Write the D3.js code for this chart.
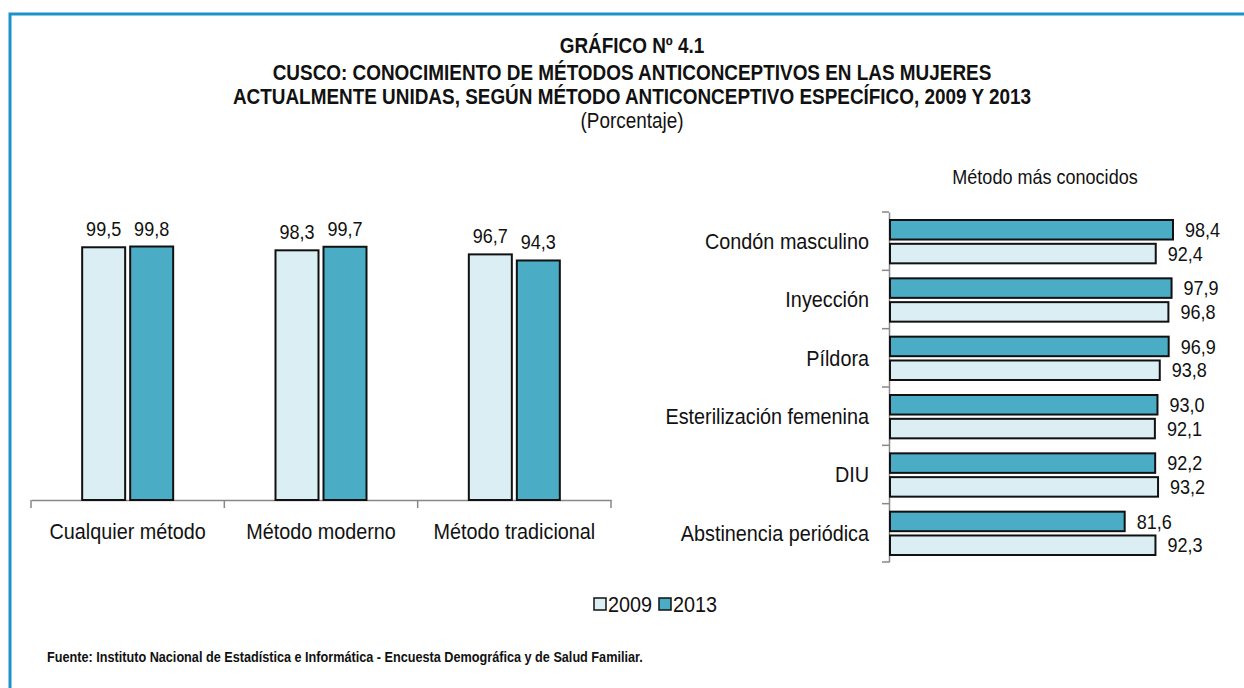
<!DOCTYPE html>
<html>
<head>
<meta charset="utf-8">
<script src="https://cdn.jsdelivr.net/npm/d3@7"></script>
<style>
  body { margin: 0; background: #fff; }
  svg text { font-family: "Liberation Sans Narrow", "Arial Narrow", "Liberation Sans", sans-serif; fill: #111; }
</style>
</head>
<body>
<svg id="chart" width="1244" height="688"></svg>
<script>
// --- Données ---
const years = ["2009", "2013"];
const colors = ["#dbeef4", "#4bacc6"];

const generalCats = ["Cualquier método", "Método moderno", "Método tradicional"];
const general2009 = [99.5, 98.3, 96.7];
const general2013 = [99.8, 99.7, 94.3];

const methodCats = ["Condón masculino", "Inyección", "Píldora", "Esterilización femenina", "DIU", "Abstinencia periódica"];
const method2009 = [92.4, 96.8, 93.8, 92.1, 93.2, 92.3];
const method2013 = [98.4, 97.9, 96.9, 93.0, 92.2, 81.6];

const fmt = v => v.toFixed(1).replace(".", ",");

// police étroite simulée (Arial Narrow absente)
const SX = 0.88;
const narrow = (fx, fy) => (d, i) => `translate(${fx(d, i)},${fy(d, i)}) scale(${SX},1)`;

const svg = d3.select("#chart");

// Cadre bleu
svg.append("path")
    .attr("d", "M10,688 V14 H1244")
    .attr("fill", "none")
    .attr("stroke", "#1b93c9")
    .attr("stroke-width", 3);

// Titres
const titles = [
    {t: "GRÁFICO Nº 4.1", y: 53, bold: true},
    {t: "CUSCO: CONOCIMIENTO DE MÉTODOS ANTICONCEPTIVOS EN LAS MUJERES", y: 80, bold: true},
    {t: "ACTUALMENTE UNIDAS, SEGÚN MÉTODO ANTICONCEPTIVO ESPECÍFICO, 2009 Y 2013", y: 104, bold: true},
    {t: "(Porcentaje)", y: 128, bold: false}
];
svg.selectAll(".title")
    .data(titles)
    .enter()
    .append("text")
    .attr("class", "title")
    .attr("transform", narrow(() => 632, d => d.y))
    .attr("text-anchor", "middle")
    .style("font-size", "21.5px")
    .style("font-weight", d => d.bold ? "bold" : "normal")
    .text(d => d.t);

// --- Graphique de gauche (barres verticales) ---
const left = {x0: 31, x1: 611, y0: 500};
const xBand = d3.scaleBand().domain(generalCats).range([left.x0, left.x1]);
const xSub = d3.scaleBand().domain(years).range([-48, 48]).padding(0);
const yLin = d3.scaleLinear().domain([0, 100]).range([left.y0, left.y0 - 254]);

const gLeft = svg.append("g");

gLeft.append("g")
    .attr("transform", `translate(0,${left.y0})`)
    .call(d3.axisBottom(xBand).tickSize(0).tickFormat(""))
    .call(g => g.select(".domain").attr("stroke", "#888").attr("stroke-width", 1.5));

// traits de séparation
gLeft.selectAll(".sep")
    .data(d3.range(generalCats.length + 1))
    .enter()
    .append("line")
    .attr("x1", i => left.x0 + i * xBand.step())
    .attr("x2", i => left.x0 + i * xBand.step())
    .attr("y1", left.y0)
    .attr("y2", left.y0 + 8)
    .attr("stroke", "#888")
    .attr("stroke-width", 1.5);

const generalRows = generalCats.map((c, i) => ({cat: c, vals: [general2009[i], general2013[i]]}));

const grp = gLeft.selectAll(".grp")
    .data(generalRows)
    .enter()
    .append("g")
    .attr("transform", d => `translate(${xBand(d.cat) + xBand.bandwidth() / 2},0)`);

grp.selectAll("rect")
    .data(d => d.vals.map((v, j) => ({v, j})))
    .enter()
    .append("rect")
    .attr("x", d => xSub(years[d.j]) + 2.5)
    .attr("width", xSub.bandwidth() - 5)
    .attr("y", d => yLin(d.v))
    .attr("height", d => yLin(0) - yLin(d.v))
    .attr("fill", d => colors[d.j])
    .attr("stroke", "#111")
    .attr("stroke-width", 2);

grp.selectAll(".val")
    .data(d => d.vals.map((v, j) => ({v, j})))
    .enter()
    .append("text")
    .attr("transform", narrow(d => xSub(years[d.j]) + xSub.bandwidth() / 2, d => yLin(d.v) - 11))
    .attr("text-anchor", "middle")
    .style("font-size", "20.5px")
    .text(d => fmt(d.v));

gLeft.selectAll(".cat")
    .data(generalCats)
    .enter()
    .append("text")
    .attr("transform", narrow(d => xBand(d) + xBand.bandwidth() / 2, () => 539))
    .attr("text-anchor", "middle")
    .style("font-size", "22.5px")
    .text(d => d);

// --- Graphique de droite (barres horizontales) ---
const right = {x0: 890, y0: 212, y1: 562};
const yBand = d3.scaleBand().domain(methodCats).range([right.y0, right.y1]);
const ySub = d3.scaleBand().domain(["2013", "2009"]).range([8, yBand.step() - 7]).paddingInner(0.18);
const xLin = d3.scaleLinear().domain([0, 100]).range([right.x0, right.x0 + 287.6]);

const gRight = svg.append("g");

gRight.append("g")
    .attr("transform", `translate(${right.x0 - 1},0)`)
    .call(d3.axisLeft(yBand).tickSize(0).tickFormat(""))
    .call(g => g.select(".domain").attr("stroke", "#888").attr("stroke-width", 1.5));

gRight.selectAll(".sep")
    .data(d3.range(methodCats.length + 1))
    .enter()
    .append("line")
    .attr("x1", right.x0 - 8)
    .attr("x2", right.x0 - 1)
    .attr("y1", i => right.y0 + i * yBand.step())
    .attr("y2", i => right.y0 + i * yBand.step())
    .attr("stroke", "#888")
    .attr("stroke-width", 1.5);

const methodRows = methodCats.map((c, i) => ({cat: c, vals: [{y: "2013", v: method2013[i], c: colors[1]}, {y: "2009", v: method2009[i], c: colors[0]}]}));

const hg = gRight.selectAll(".hgrp")
    .data(methodRows)
    .enter()
    .append("g")
    .attr("transform", d => `translate(0,${yBand(d.cat)})`);

hg.selectAll("rect")
    .data(d => d.vals)
    .enter()
    .append("rect")
    .attr("x", xLin(0))
    .attr("y", d => ySub(d.y))
    .attr("width", d => xLin(d.v) - xLin(0))
    .attr("height", ySub.bandwidth())
    .attr("fill", d => d.c)
    .attr("stroke", "#111")
    .attr("stroke-width", 2);

hg.selectAll(".val")
    .data(d => d.vals)
    .enter()
    .append("text")
    .attr("transform", narrow(d => xLin(d.v) + 12, d => ySub(d.y) + ySub.bandwidth() / 2))
    .attr("dy", "0.35em")
    .style("font-size", "20.5px")
    .text(d => fmt(d.v));

gRight.selectAll(".cat")
    .data(methodCats)
    .enter()
    .append("text")
    .attr("transform", narrow(() => 869, d => yBand(d) + yBand.bandwidth() / 2))
    .attr("dy", "0.35em")
    .attr("text-anchor", "end")
    .style("font-size", "22.5px")
    .text(d => d);

svg.append("text")
    .attr("transform", `translate(1045,184) scale(${SX},1)`)
    .attr("text-anchor", "middle")
    .style("font-size", "20.5px")
    .text("Método más conocidos");

// --- Légende ---
const legend = svg.append("g").attr("transform", "translate(594,598)");
const legItems = legend.selectAll("g")
    .data(years)
    .enter()
    .append("g")
    .attr("transform", (d, i) => `translate(${i * 65},0)`);
legItems.append("rect")
    .attr("width", 12)
    .attr("height", 12)
    .attr("fill", (d, i) => colors[i])
    .attr("stroke", "#111")
    .attr("stroke-width", 1.5);
legItems.append("text")
    .attr("transform", `translate(14,6) scale(${SX},1)`)
    .attr("dy", "0.35em")
    .style("font-size", "22.5px")
    .text(d => d);

// Source
svg.append("text")
    .attr("transform", `translate(47,662) scale(${SX},1)`)
    .style("font-size", "14.4px")
    .style("font-weight", "bold")
    .text("Fuente: Instituto Nacional de Estadística e Informática - Encuesta Demográfica y de Salud Familiar.");
</script>
</body>
</html>
